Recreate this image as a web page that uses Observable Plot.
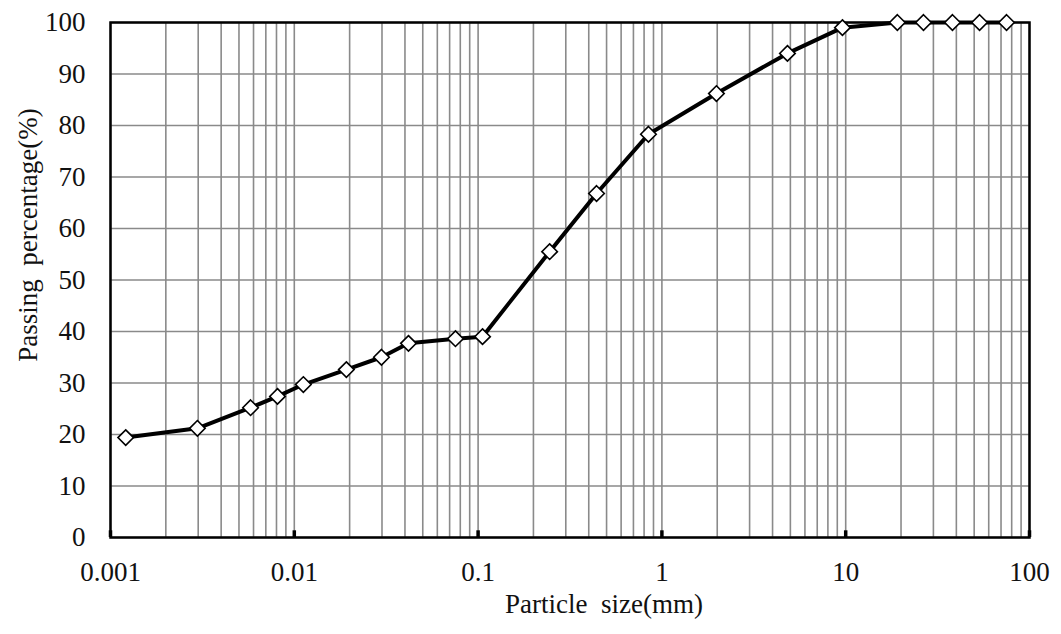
<!DOCTYPE html>
<html>
<head>
<meta charset="utf-8">
<script src="https://cdn.jsdelivr.net/npm/d3@7"></script>
<script src="https://cdn.jsdelivr.net/npm/@observablehq/plot@0.6"></script>
<style>
  html, body { margin: 0; padding: 0; background: #fff; }
  svg text { font-family: "Liberation Serif", "Times New Roman", serif !important; }
</style>
</head>
<body>
<div id="chart"></div>
<script>
// Particle size (mm) and passing percentage (%)
const particleSize = [0.00121, 0.00297, 0.00578, 0.0081, 0.0112, 0.0192, 0.0298, 0.0418, 0.0753, 0.1057,
  0.245, 0.441, 0.845, 1.98, 4.82, 9.6, 19.1, 26.5, 38.1, 53.5, 75];
const passing = [19.4, 21.2, 25.2, 27.4, 29.7, 32.6, 35.0, 37.7, 38.6, 39.0,
  55.5, 66.8, 78.3, 86.2, 94.0, 99.0, 100, 100, 100, 100, 100];

const xTickLabels = [0.001, 0.01, 0.1, 1, 10, 100];
const yTicks = [0, 10, 20, 30, 40, 50, 60, 70, 80, 90, 100];
const minorMultipliers = [1, 2, 3, 4, 5, 6, 7, 8, 9];
const xLabel = "Particle  size(mm)";
const yLabel = "Passing  percentage(%)";

const data = particleSize.map((s, i) => ({size: s, pass: passing[i]}));
const xGrid = [];
for (const d of xTickLabels.slice(0, -1)) for (const m of minorMultipliers) xGrid.push(d * m);
xGrid.push(100);

const chart = Plot.plot({
  width: 1061,
  height: 634,
  marginLeft: 110,
  marginRight: 32,
  marginTop: 22,
  marginBottom: 97,
  style: {fontFamily: "'Liberation Serif', 'Times New Roman', serif", fontSize: "27px", color: "#111", background: "#fff"},
  x: {type: "log", domain: [0.001, 100]},
  y: {domain: [0, 100]},
  marks: [
    Plot.ruleX(xGrid, {x: d => d, stroke: "#8a8a8a", strokeWidth: 1.6, strokeOpacity: 1}),
    Plot.ruleY(yTicks, {y: d => d, stroke: "#8a8a8a", strokeWidth: 1.6, strokeOpacity: 1}),
    Plot.axisX({ticks: xTickLabels, tickFormat: d => String(d), tickSize: 0, tickPadding: 24, label: null}),
    Plot.ruleX(xTickLabels, {x: d => d, y1: 0, y2: 1.3, stroke: "black", strokeWidth: 3.5}),
    Plot.axisY({ticks: yTicks, tickSize: 0, tickPadding: 25, label: null}),
    Plot.text([xLabel], {text: d => d, frameAnchor: "bottom", textAnchor: "middle", dx: 34, dy: 67, lineAnchor: "middle", fontSize: 27, fill: "#111"}),
    Plot.text([yLabel], {text: d => d, frameAnchor: "left", textAnchor: "middle", rotate: -90, dx: -82, dy: -45, lineAnchor: "middle", fontSize: 27, fill: "#111"}),
    Plot.frame({stroke: "black", strokeWidth: 2.5}),
    Plot.line(data, {x: "size", y: "pass", stroke: "black", strokeWidth: 4}),
    Plot.dot(data, {x: "size", y: "pass", symbol: "diamond2", r: 7, fill: "white", stroke: "black", strokeWidth: 1.6})
  ]
});
document.getElementById("chart").appendChild(chart);
</script>
</body>
</html>
